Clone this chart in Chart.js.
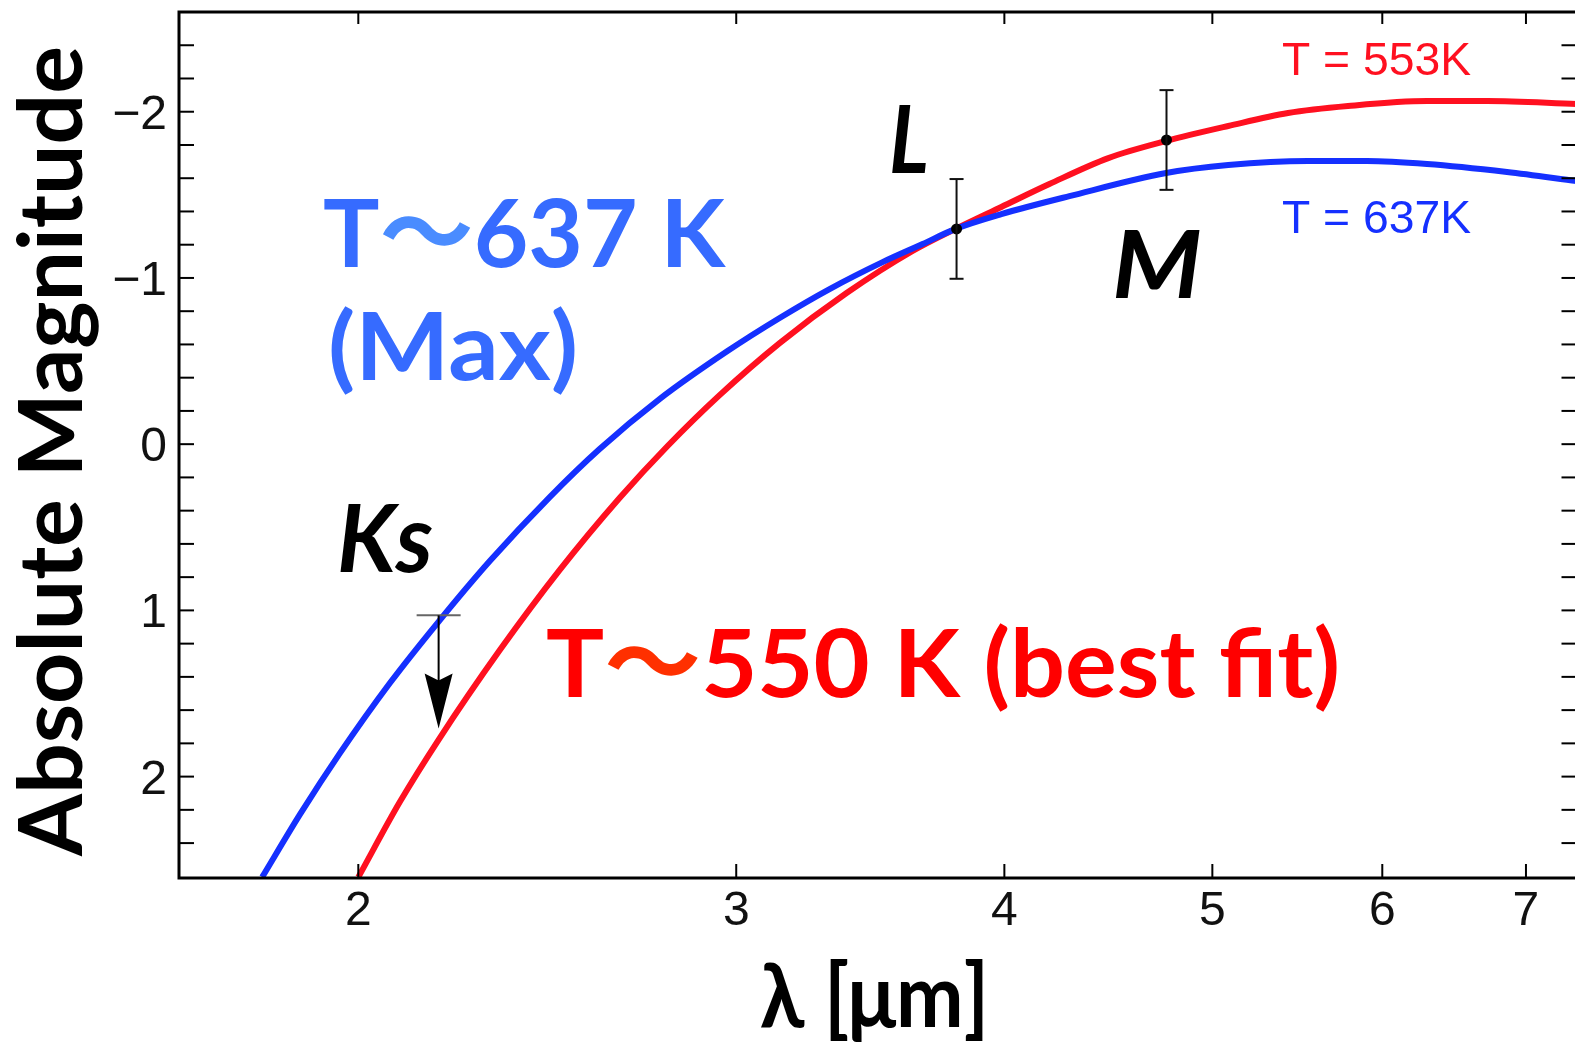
<!DOCTYPE html>
<html>
<head>
<meta charset="utf-8">
<script src="https://cdn.jsdelivr.net/npm/chart.js@4.4.1/dist/chart.umd.min.js"></script>
<style>
    html, body { margin: 0; padding: 0; background: #fff; overflow: hidden; }
    #wrap { width: 1575px; height: 1043px; overflow: hidden; }
    canvas { display: block; }
</style>
</head>
<body>
<div id="wrap"><canvas id="sedChart" width="1582" height="1043"></canvas></div>
<script>
// model curves: wavelength [micron] vs absolute magnitude
const blueLambda = [1.804, 1.879, 1.961, 2.069, 2.181, 2.303, 2.456, 2.591, 2.763, 2.972, 3.143, 3.316, 3.510, 3.664, 3.796, 3.987, 4.289, 4.758, 5.086, 5.540, 5.902, 6.295, 6.859, 7.39];
const blueMag    = [2.605, 2.226, 1.859, 1.437, 1.064, 0.703, 0.318, 0.029, -0.271, -0.560, -0.759, -0.933, -1.095, -1.204, -1.295, -1.384, -1.492, -1.631, -1.679, -1.703, -1.703, -1.685, -1.637, -1.583];
const redLambda  = [2.0, 2.091, 2.181, 2.328, 2.482, 2.647, 2.787, 2.947, 3.143, 3.377, 3.625, 3.796, 3.987, 4.198, 4.472, 4.758, 5.086, 5.423, 5.783, 6.295, 6.714, 7.39];
const redMag     = [2.605, 2.153, 1.774, 1.239, 0.758, 0.324, 0.011, -0.295, -0.608, -0.909, -1.162, -1.295, -1.427, -1.565, -1.721, -1.824, -1.914, -1.992, -2.034, -2.064, -2.064, -2.046];

// photometry: Ks is an upper limit, L and M have error bars
const obsBand   = ['Ks', 'L', 'M'];
const obsLambda = [2.18, 3.80, 4.76];
const obsMag    = [1.03, -1.295, -1.83];
const obsErr    = [0, 0.30, 0.30];
const ksLimitTip = 1.71;

// axis ticks
const xTickValues = [2, 3, 4, 5, 6, 7];
const yTickValues = [-2, -1, 0, 1, 2];
const yMinorTicks = [-2.4, -2.2, -2.0, -1.8, -1.6, -1.4, -1.2, -1.0, -0.8, -0.6, -0.4, -0.2, 0, 0.2, 0.4, 0.6, 0.8, 1.0, 1.2, 1.4, 1.6, 1.8, 2.0, 2.2, 2.4];

const BLUE = '#1530ff';
const RED = '#ff1020';

// draw text stretched to a given width, left edge + baseline
function fitText(ctx, parts, left, baseline, font, width) {
    ctx.save();
    ctx.font = font;
    ctx.textAlign = 'left';
    ctx.textBaseline = 'alphabetic';
    let total = 0;
    parts.forEach(p => { total += ctx.measureText(p[0]).width; });
    ctx.translate(left, baseline);
    ctx.scale(width / total, 1);
    let x = 0;
    parts.forEach(p => {
        ctx.fillStyle = p[1];
        ctx.fillText(p[0], x, 0);
        x += ctx.measureText(p[0]).width;
    });
    ctx.restore();
}

function line(ctx, x1, y1, x2, y2) {
    ctx.beginPath();
    ctx.moveTo(x1, y1);
    ctx.lineTo(x2, y2);
    ctx.stroke();
}

const errorBars = {
    id: 'errorBars',
    afterDatasetsDraw(chart) {
        const { ctx, scales: { x, y } } = chart;
        ctx.save();
        obsBand.forEach((band, i) => {
            const px = x.getPixelForValue(obsLambda[i]);
            if (band === 'Ks') {
                const py = y.getPixelForValue(obsMag[i]);
                const tip = y.getPixelForValue(ksLimitTip);
                ctx.strokeStyle = '#666';
                ctx.lineWidth = 2;
                line(ctx, px - 22, py, px + 22, py);
                ctx.strokeStyle = '#000';
                line(ctx, px, py, px, tip - 20);
                ctx.fillStyle = '#000';
                ctx.beginPath();
                ctx.moveTo(px - 14, tip - 55);
                ctx.lineTo(px, tip - 48);
                ctx.lineTo(px + 14, tip - 55);
                ctx.lineTo(px, tip);
                ctx.closePath();
                ctx.fill();
            } else {
                const top = y.getPixelForValue(obsMag[i] - obsErr[i]);
                const bot = y.getPixelForValue(obsMag[i] + obsErr[i]);
                ctx.strokeStyle = '#111';
                ctx.lineWidth = 2;
                line(ctx, px, top, px, bot);
                line(ctx, px - 7, top, px + 7, top);
                line(ctx, px - 7, bot, px + 7, bot);
            }
        });
        ctx.restore();
    }
};

const frameAndText = {
    id: 'frameAndText',
    afterDraw(chart) {
        const { ctx, chartArea: a, scales: { x, y } } = chart;
        ctx.save();
        ctx.strokeStyle = '#000';
        ctx.lineWidth = 2;
        xTickValues.forEach(v => {
            const px = x.getPixelForValue(v);
            line(ctx, px, a.bottom, px, a.bottom - 14);
            line(ctx, px, a.top, px, a.top + 12);
        });
        yMinorTicks.forEach(v => {
            const py = y.getPixelForValue(v);
            line(ctx, a.left, py, a.left + 15, py);
            line(ctx, a.right, py, a.right - 15, py);
        });
        ctx.lineWidth = 3;
        ctx.strokeRect(a.left, a.top, a.right - a.left, a.bottom - a.top);

        // tick labels
        ctx.fillStyle = '#111';
        ctx.font = '48px "Liberation Sans", Arial, sans-serif';
        ctx.textBaseline = 'alphabetic';
        ctx.textAlign = 'center';
        xTickValues.forEach(v => {
            ctx.fillText(String(v), x.getPixelForValue(v), 925);
        });
        ctx.textAlign = 'right';
        yTickValues.forEach(v => {
            const label = v < 0 ? '\u2212' + Math.abs(v) : String(v);
            ctx.fillText(label, 167, y.getPixelForValue(v) + 17);
        });

        // axis titles
        const titleFont = 'bold 88px Lato, "Open Sans", "DejaVu Sans", sans-serif';
        ctx.save();
        ctx.translate(82, 451);
        ctx.rotate(-Math.PI / 2);
        fitText(ctx, [['Absolute Magnitude', '#000']], -405, 0, titleFont, 810);
        ctx.restore();
        fitText(ctx, [['\u03bb [\u03bcm]', '#000']], 760, 1027, titleFont, 229);

        // annotations
        const big = 'bold 94px Lato, "Noto Sans CJK JP", sans-serif';
        const ital = 'italic bold 93px Lato, "Open Sans", sans-serif';
        fitText(ctx, [['T', '#366bff'], ['\uff5e', '#4a8cff'], ['637 K', '#366bff']], 323, 267, big, 402);
        fitText(ctx, [['(Max)', '#366bff']], 328, 380, big, 250);
        fitText(ctx, [['T', '#ff0000'], ['\uff5e', '#ff3000'], ['550 K (best fit)', '#ff0000']], 546, 697, big, 794);
        fitText(ctx, [['Ks', '#000']], 337, 572, ital, 96);
        fitText(ctx, [['L', '#000']], 889, 173, ital, 40);
        fitText(ctx, [['M', '#000']], 1112, 298, ital, 90);
        const small = '46px "Liberation Sans", Arial, sans-serif';
        fitText(ctx, [['T = 553K', RED]], 1282, 75, small, 189);
        fitText(ctx, [['T = 637K', BLUE]], 1282, 233, small, 189);
        ctx.restore();
    }
};

const ctx = document.getElementById('sedChart').getContext('2d');
const sedChart = new Chart(ctx, {
    type: 'line',
    data: {
        datasets: [{
            label: 'L, M',
            type: 'scatter',
            order: 0,
            data: obsLambda.map((v, i) => ({ x: v, y: obsMag[i] })).filter((p, i) => obsBand[i] !== 'Ks'),
            pointRadius: 5.5,
            backgroundColor: '#000',
            borderWidth: 0
        }, {
            label: 'T = 637K',
            order: 1,
            data: blueLambda.map((v, i) => ({ x: v, y: blueMag[i] })),
            borderColor: BLUE,
            borderWidth: 6,
            pointRadius: 0,
            cubicInterpolationMode: 'monotone',
            fill: false
        }, {
            label: 'T = 553K',
            order: 2,
            data: redLambda.map((v, i) => ({ x: v, y: redMag[i] })),
            borderColor: RED,
            borderWidth: 6,
            pointRadius: 0,
            cubicInterpolationMode: 'monotone',
            fill: false
        }]
    },
    options: {
        responsive: false,
        animation: false,
        devicePixelRatio: 1,
        layout: { padding: { top: 12, right: 4, bottom: 0, left: 0 } },
        plugins: {
            legend: { display: false },
            tooltip: { enabled: false }
        },
        scales: {
            x: {
                type: 'logarithmic',
                bounds: 'data',
                min: 1.65,
                max: 7.39,
                grid: { display: false, drawTicks: false },
                border: { display: false },
                ticks: { display: false },
                afterFit: s => { s.height = 165; }
            },
            y: {
                type: 'linear',
                bounds: 'data',
                reverse: true,
                min: -2.60,
                max: 2.61,
                grid: { display: false, drawTicks: false },
                border: { display: false },
                ticks: { display: false },
                afterFit: s => { s.width = 179; }
            }
        }
    },
    plugins: [errorBars, frameAndText]
});
</script>
</body>
</html>
